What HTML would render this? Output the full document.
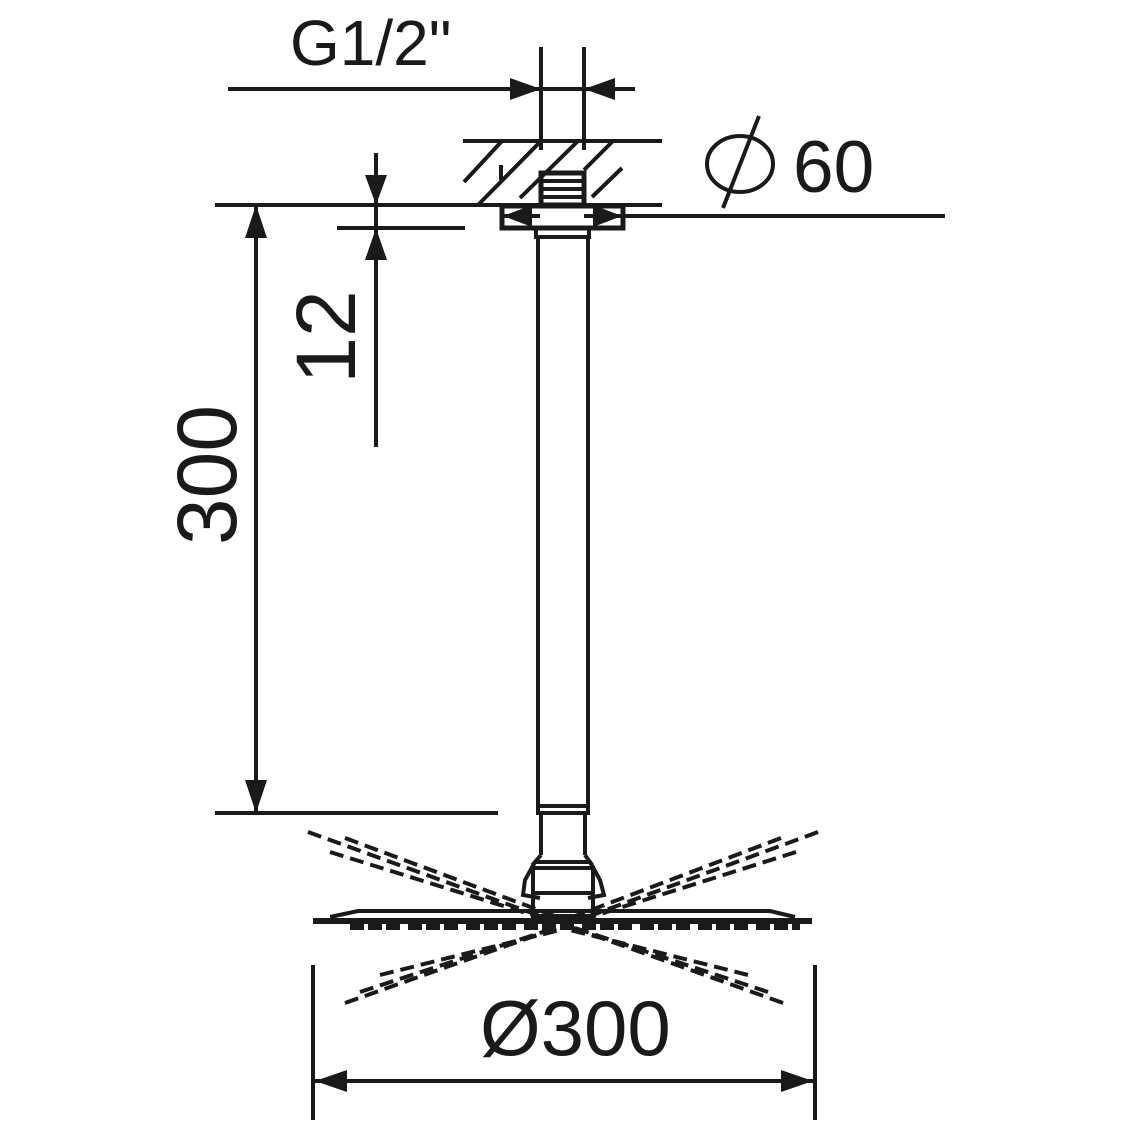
<!DOCTYPE html>
<html><head><meta charset="utf-8"><style>
html,body{margin:0;padding:0;background:#fff;}
svg{display:block}
text{font-family:"Liberation Sans",sans-serif;fill:#1a1a1a}
</style></head><body>
<svg width="1123" height="1123" viewBox="0 0 1123 1123" xmlns="http://www.w3.org/2000/svg">
<g stroke="#1a1a1a" stroke-width="4" fill="none" stroke-linecap="butt">
<line x1="228" y1="89" x2="635" y2="89"/>
<line x1="541" y1="47" x2="541" y2="150"/>
<line x1="584" y1="47" x2="584" y2="150"/>
<line x1="463" y1="141" x2="662" y2="141"/>
<line x1="215" y1="205" x2="662" y2="205"/>
<line x1="502" y1="141" x2="464" y2="182"/>
<line x1="541" y1="141" x2="478" y2="205"/>
<line x1="578" y1="141" x2="520" y2="198"/>
<line x1="613" y1="141" x2="584" y2="170"/>
<line x1="622" y1="168" x2="592" y2="197"/>
<line x1="501" y1="165" x2="501" y2="180"/>
<rect x="541" y="173" width="43" height="32" stroke-width="5"/>
<line x1="541" y1="181" x2="584" y2="181"/>
<line x1="541" y1="189" x2="584" y2="189"/>
<line x1="541" y1="197" x2="584" y2="197"/>
<rect x="502" y="206" width="121" height="22" stroke-width="5"/>
<line x1="584" y1="216" x2="945" y2="216"/>
<line x1="502" y1="216" x2="540" y2="216"/>
<rect x="536" y="228" width="53" height="9"/>
<line x1="538" y1="237" x2="538" y2="808"/>
<line x1="588" y1="237" x2="588" y2="808"/>
<rect x="538" y="806" width="50" height="7"/>
<line x1="541" y1="813" x2="541" y2="855"/>
<line x1="585" y1="813" x2="585" y2="855"/>
<path d="M541 855 L535 862 L590 862 L585 855"/>
<path d="M535 862 L525 880 L523 895 L540 898" />
<path d="M590 862 L600 880 L604 895 L588 898"/>
<rect x="533" y="868" width="60" height="48"/>
<line x1="533" y1="893" x2="593" y2="893"/>
<line x1="376" y1="153" x2="376" y2="447"/>
<line x1="337" y1="228" x2="465" y2="228"/>
<line x1="256" y1="205" x2="256" y2="813"/>
<line x1="215" y1="813" x2="498" y2="813"/>
<path d="M313 921 L812 921" stroke-width="6"/>
<path d="M330 917 L358 911 L770 911 L795 917"/>
<path d="M350 927 H800" stroke-width="6" stroke-dasharray="14 4 14 4 14 8"/>
<line x1="313" y1="965" x2="313" y2="1120"/>
<line x1="815" y1="965" x2="815" y2="1120"/>
<line x1="315" y1="1081" x2="813" y2="1081"/>
<ellipse cx="740" cy="164" rx="33" ry="28" stroke-width="4"/>
<line x1="759" y1="116" x2="723" y2="208" stroke-width="4"/>
</g>
<g stroke="#1a1a1a" stroke-width="4" fill="none" stroke-dasharray="14 7">
<line x1="308" y1="832" x2="565" y2="925"/>
<line x1="345" y1="838" x2="560" y2="918"/>
<line x1="330" y1="852" x2="555" y2="922"/>
<line x1="818" y1="832" x2="565" y2="925"/>
<line x1="781" y1="838" x2="570" y2="918"/>
<line x1="796" y1="852" x2="575" y2="922"/>
<line x1="345" y1="1003" x2="565" y2="925"/>
<line x1="380" y1="975" x2="560" y2="930"/>
<line x1="360" y1="992" x2="555" y2="928"/>
<line x1="783" y1="1003" x2="565" y2="925"/>
<line x1="748" y1="975" x2="570" y2="930"/>
<line x1="768" y1="992" x2="575" y2="928"/>
</g>
<g fill="#1a1a1a">
<polygon points="541,89 510,78 510,100"/>
<polygon points="584,89 615,78 615,100"/>
<polygon points="503,216 532,205 532,227"/>
<polygon points="622,216 593,205 593,227"/>
<polygon points="376,205 365,175 387,175"/>
<polygon points="376,228 365,260 387,260"/>
<polygon points="256,205 245,238 267,238"/>
<polygon points="256,813 245,780 267,780"/>
<polygon points="315,1081 347,1070 347,1092"/>
<polygon points="813,1081 781,1070 781,1092"/>
</g>
<text x="290" y="65" font-size="64">G1/2"</text>
<text x="793" y="192" font-size="73">60</text>
<text x="480" y="1055" font-size="78">Ø300</text>
<text transform="translate(355,337) rotate(-90)" font-size="84" text-anchor="middle">12</text>
<text transform="translate(236,475) rotate(-90)" font-size="84" text-anchor="middle">300</text>
</svg>
</body></html>
